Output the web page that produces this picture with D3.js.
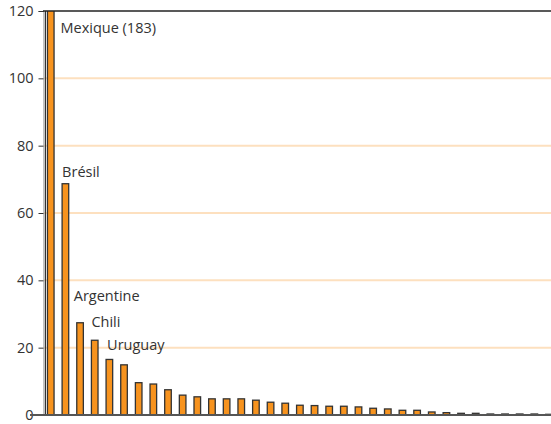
<!DOCTYPE html>
<html>
<head>
<meta charset="utf-8">
<script src="https://cdn.jsdelivr.net/npm/d3@7"></script>
<style>
body { margin: 0; background: #fff; }
text { font-family: "Open Sans", sans-serif; fill: #333; }
</style>
</head>
<body>
<script>
var width = 551,
	height = 424;

// one bar per country, sorted; only some are named
var countries = d3.range(35).map(function(i) { return "c" + i; });
var values = [183, 68.7, 27.4, 22.2, 16.5, 14.9, 9.6, 9.2, 7.5, 5.9, 5.4, 4.8, 4.8, 4.8,
	4.4, 3.8, 3.5, 2.9, 2.8, 2.6, 2.6, 2.4, 2.0, 1.8, 1.4, 1.4, 0.9, 0.7, 0.5, 0.5,
	0.3, 0.3, 0.3, 0.3, 0.2];
var labels = ["Mexique (183)", "Brésil", "Argentine", "Chili", "Uruguay"];
var labelPos = [[13, 22], [0, 166], [-3, 290], [0, 316], [1, 339]]; // offset from bar left / y
var yTicks = [0, 20, 40, 60, 80, 100, 120];

var x = d3.scaleBand()
	.domain(countries)
	.range([43.5, 43.5 + 35 * 14.65])
	.paddingInner(0.55)
	.paddingOuter(0.27);

var y = d3.scaleLinear()
	.domain([0, 120])
	.range([415, 11]);

var svg = d3.select("body")
	.append("svg")
	.attr("width", width)
	.attr("height", height);

svg.append("defs").append("clipPath")
	.attr("id", "plot")
	.append("rect")
	.attr("x", 43).attr("y", 11)
	.attr("width", width - 43).attr("height", 404);

// grid
svg.selectAll("line.grid")
	.data(yTicks.filter(function(d) { return d > 0 && d < 120; }))
	.enter()
	.append("line")
	.attr("class", "grid")
	.attr("x1", 44).attr("x2", width)
	.attr("y1", function(d) { return y(d); })
	.attr("y2", function(d) { return y(d); })
	.attr("stroke", "#fde0bf")
	.attr("stroke-width", 2);

// bars
svg.append("g")
	.attr("clip-path", "url(#plot)")
	.selectAll("rect")
	.data(values)
	.enter()
	.append("rect")
	.attr("x", function(d, i) { return x(countries[i]); })
	.attr("width", x.bandwidth())
	.attr("y", function(d) { return y(Math.min(d, 125)); })
	.attr("height", function(d) { return y(0) - y(Math.min(d, 125)); })
	.attr("fill", "#f7931e")
	.attr("stroke", "#333")
	.attr("stroke-width", 1.3);

// axes frame
var yAxis = d3.axisLeft(y)
	.tickValues(yTicks)
	.tickSize(5)
	.tickPadding(5);

var ag = svg.append("g")
	.attr("transform", "translate(43.5,0)")
	.call(yAxis);
ag.select(".domain").attr("stroke", "#888");
ag.selectAll(".tick line").attr("stroke", "#333");
ag.selectAll(".tick text")
	.style("font-size", "14.5px")
	.style("font-family", "'Open Sans', sans-serif")
	.attr("fill", "#333");

svg.append("line")
	.attr("x1", 45.5).attr("x2", 45.5)
	.attr("y1", 11).attr("y2", 415)
	.attr("stroke", "#333").attr("stroke-width", 1);

svg.append("line")
	.attr("x1", 43).attr("x2", width)
	.attr("y1", 11).attr("y2", 11)
	.attr("stroke", "#222").attr("stroke-width", 1.5);

svg.append("line")
	.attr("x1", 30).attr("x2", width)
	.attr("y1", 415).attr("y2", 415)
	.attr("stroke", "#555").attr("stroke-width", 2);

// country labels
svg.selectAll("text.lbl")
	.data(labels)
	.enter()
	.append("text")
	.attr("class", "lbl")
	.attr("x", function(d, i) { return x(countries[i]) + labelPos[i][0]; })
	.attr("y", function(d, i) { return labelPos[i][1] + 11; })
	.style("font-size", "14.5px")
	.text(function(d) { return d; });
</script>
</body>
</html>
